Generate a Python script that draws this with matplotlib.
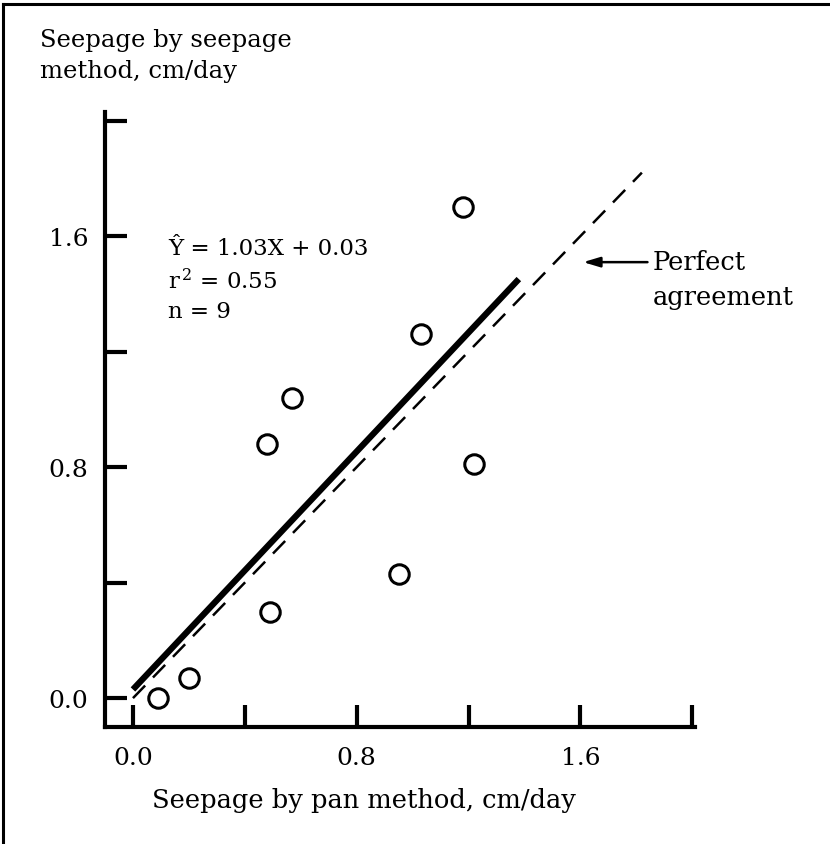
import matplotlib
matplotlib.use("Agg")
import matplotlib.pyplot as plt
import numpy as np
from matplotlib.lines import Line2D

plt.rcParams["font.family"] = ["DejaVu Serif"]
plt.rcParams["mathtext.fontset"] = "dejavuserif"

# Seepage measurements (cm/day)
pan_method = [0.09, 0.20, 0.48, 0.57, 0.49, 0.95, 1.03, 1.18, 1.22]
seepage_method = [0.00, 0.07, 0.88, 1.04, 0.30, 0.43, 1.26, 1.70, 0.81]

# Fitted regression and statistics
slope = 1.03
intercept = 0.03
r_squared = 0.55
n_obs = 9
fit_x_range = [0.0, 1.38]
agreement_range = [0.0, 1.82]

x_ticks = [0.0, 0.4, 0.8, 1.2, 1.6, 2.0]
x_tick_labels = ["0.0", "", "0.8", "", "1.6", ""]
y_ticks = [0.0, 0.4, 0.8, 1.2, 1.6, 2.0]
y_tick_labels = ["0.0", "", "0.8", "", "1.6", ""]

W, H = 830, 845
fig = plt.figure(figsize=(W / 100, H / 100), dpi=100)
ax = fig.add_axes([105 / W, (H - 728) / H, 590 / W, 615 / H])

ax.set_xlim(-0.1, 2.01)
ax.set_ylim(-0.1, 2.03)

# Perfect agreement line (1:1)
ax.plot(agreement_range, agreement_range, color="black", lw=1.8,
        dashes=(7, 4.5), solid_capstyle="butt", dash_capstyle="butt")

# Regression line
fx = np.array(fit_x_range)
ax.plot(fx, slope * fx + intercept, color="black", lw=4.5,
        solid_capstyle="butt")

# Observations
ax.plot(pan_method, seepage_method, linestyle="none", marker="o",
        markersize=14, markerfacecolor="white", markeredgecolor="black",
        markeredgewidth=2.2)

# Axes styling
for side in ("top", "right"):
    ax.spines[side].set_visible(False)
for side in ("left", "bottom"):
    ax.spines[side].set_linewidth(3)

ax.set_xticks(x_ticks)
ax.set_xticklabels(x_tick_labels)
ax.set_yticks(y_ticks)
ax.set_yticklabels(y_tick_labels)
ax.tick_params(direction="in", length=16, width=3, labelsize=18, pad=14,
               colors="black")
ax.tick_params(axis="y", pad=12)

ax.set_xlabel("Seepage by pan method, cm/day", fontsize=18.5)
ax.xaxis.set_label_coords((364 - 105) / 590, -(788 - 728) / 615)

fig.text(40 / W, 1 - 56 / H, "Seepage by seepage\nmethod, cm/day",
         fontsize=17.5, ha="left", va="center", linespacing=1.45)

# Regression statistics
stats_x = 0.125
ax.text(stats_x, 1.56, f"\u0176 = {slope:.2f}X + {intercept:.2f}",
        fontsize=16.5, ha="left", va="center")
ax.text(stats_x, 1.445, f"r$^{{\\,2}}$ = {r_squared:.2f}",
        fontsize=16.5, ha="left", va="center")
ax.text(stats_x, 1.34, f"n = {n_obs}",
        fontsize=16.5, ha="left", va="center")

# Perfect agreement annotation
ax.annotate("", xy=(1.61, 1.51), xytext=(1.84, 1.51),
            arrowprops=dict(arrowstyle="-|>,head_length=1.0,head_width=0.3",
                            color="black", lw=1.8, shrinkA=0, shrinkB=0),
            annotation_clip=False)
ax.text(1.86, 1.45, "Perfect\nagreement", fontsize=18.5, ha="left",
        va="center", linespacing=1.5, clip_on=False)

# Page frame
fig.add_artist(Line2D([3 / W, 3 / W], [0, 1 - 5 / H], color="black", lw=2.2,
                      transform=fig.transFigure))
fig.add_artist(Line2D([3 / W, 1], [1 - 5 / H, 1 - 5 / H], color="black",
                      lw=2.2, transform=fig.transFigure))

fig.savefig("out.png", dpi=100, facecolor="white")
